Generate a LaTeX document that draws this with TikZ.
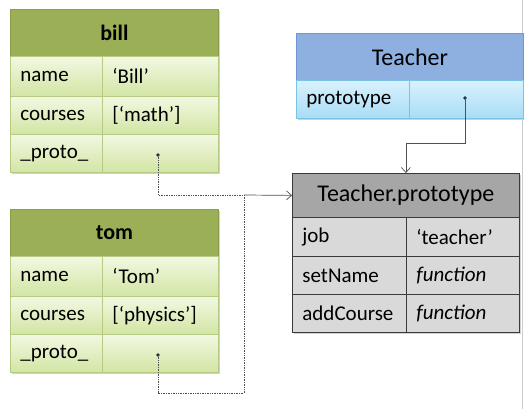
\documentclass[tikz,border=0pt]{standalone}
\usepackage{fontspec}
\setmainfont{Carlito}
\usetikzlibrary{arrows.meta}
\definecolor{gHead}{HTML}{9BAF57}
\definecolor{gHeadLine}{HTML}{8A9E4C}
\definecolor{gTop}{HTML}{F2F8E2}
\definecolor{gBot}{HTML}{D2E5A4}
\definecolor{gLine}{HTML}{B5CA82}
\definecolor{bHead}{HTML}{8DB0E0}
\definecolor{bHeadLine}{HTML}{6F98D2}
\definecolor{bTop}{HTML}{D8F2FD}
\definecolor{bBot}{HTML}{A9DCF5}
\definecolor{bLine}{HTML}{7CC2E6}
\definecolor{pHead}{HTML}{A6A6A6}
\definecolor{pRow}{HTML}{D9D9D9}
\definecolor{pLine}{HTML}{3A3A3A}
\definecolor{conn}{HTML}{505050}
\definecolor{dotc}{HTML}{1F2A44}
\tikzset{
  basecell/.style={anchor=north west, inner xsep=10pt, inner ysep=0pt, align=left,
    font=\fontsize{21}{24}\selectfont, line width=0.8pt},
  headcell/.style={anchor=north west, inner sep=0pt, align=center, line width=0.8pt},
  greenrow/.style={basecell, draw=gLine, top color=gTop, bottom color=gBot},
  greenhead/.style={headcell, draw=gHeadLine, fill=gHead, font=\fontsize{22}{24}\selectfont\bfseries},
  bluerow/.style={basecell, draw=bLine, top color=bTop, bottom color=bBot},
  bluehead/.style={headcell, draw=bHeadLine, fill=bHead, font=\fontsize{24}{27}\selectfont},
  grayrow/.style={basecell, draw=pLine, fill=pRow},
  grayhead/.style={headcell, draw=pLine, fill=pHead, font=\fontsize{24}{27}\selectfont},
  shadowbox/.style={fill=black!18},
  dotmark/.style={circle, fill=dotc, inner sep=0pt, minimum size=3.6pt},
  dotline/.style={conn, densely dotted, line width=0.7pt},
  solidline/.style={conn, line width=0.7pt},
  arrowtip/.style={-{Straight Barb[length=5pt,width=9pt,line width=0.7pt]}}
}
\begin{document}
\begin{tikzpicture}[x=1pt,y=-1pt]
\useasboundingbox (0,0) rectangle (524,409);
\fill[white] (0,0) rectangle (524,409);
\draw[black!20, line width=1pt] (522.5,0) -- (522.5,409);
% shadows
\fill[shadowbox] (12,11) rectangle (220,174);
\fill[shadowbox] (12,211) rectangle (220,374);
\fill[shadowbox] (298,35) rectangle (525,120);
\fill[shadowbox] (294,175) rectangle (521,334);
% bill
\node[greenhead, minimum width=208pt, minimum height=47pt] (billh) at (10,9) {bill};
\node[greenrow, text width=72pt, minimum height=40pt] (bnk) at (10,56) {name};
\node[greenrow, text width=96pt, minimum height=40pt] (bnv) at (102,56) {‘Bill’};
\node[greenrow, text width=72pt, minimum height=38pt] (bck) at (10,96) {courses};
\node[greenrow, text width=96pt, minimum height=38pt] (bcv) at (102,96) {[‘math’]};
\node[greenrow, text width=72pt, minimum height=38pt] (bpk) at (10,134) {\_proto\_};
\node[greenrow, text width=96pt, minimum height=38pt] (bpv) at (102,134) {};
% tom
\node[greenhead, minimum width=208pt, minimum height=47pt] (tomh) at (10,209) {tom};
\node[greenrow, text width=72pt, minimum height=40pt] (tnk) at (10,256) {name};
\node[greenrow, text width=96pt, minimum height=40pt] (tnv) at (102,256) {‘Tom’};
\node[greenrow, text width=72pt, minimum height=38pt] (tck) at (10,296) {courses};
\node[greenrow, text width=96pt, minimum height=38pt] (tcv) at (102,296) {[‘physics’]};
\node[greenrow, text width=72pt, minimum height=38pt] (tpk) at (10,334) {\_proto\_};
\node[greenrow, text width=96pt, minimum height=38pt] (tpv) at (102,334) {};
% Teacher
\node[bluehead, minimum width=227pt, minimum height=47pt] (teach) at (296,33) {Teacher};
\node[bluerow, text width=93pt, minimum height=38pt] (tprk) at (296,80) {prototype};
\node[bluerow, text width=94pt, minimum height=38pt] (tprv) at (409,80) {};
% Teacher.prototype
\node[grayhead, minimum width=227pt, minimum height=44pt] (tp) at (292,173) {Teacher.prototype};
\node[grayrow, text width=94pt, minimum height=39pt] (jk) at (292,217) {job};
\node[grayrow, text width=93pt, minimum height=39pt] (jv) at (406,217) {‘teacher’};
\node[grayrow, text width=94pt, minimum height=38pt] (sk) at (292,256) {setName};
\node[grayrow, text width=93pt, minimum height=38pt] (sv) at (406,256) {\itshape function};
\node[grayrow, text width=94pt, minimum height=38pt] (ak) at (292,294) {addCourse};
\node[grayrow, text width=93pt, minimum height=38pt] (av) at (406,294) {\itshape function};
% dots
\node[dotmark] (bdot) at (158,155) {};
\node[dotmark] (tdot) at (158,355) {};
\node[dotmark] (cdot) at (465,98) {};
% connectors
\coordinate (join) at (244,195);
\coordinate (tomturn) at (244,393);
\coordinate (cbend) at (465,143);
\draw[dotline] (bdot.center) |- (join);
\draw[solidline, arrowtip] (join) -- (tp.west);
\draw[dotline] (tdot.center) |- (tomturn) -- (join);
\draw[solidline, arrowtip] (cdot.center) -- (cbend) -| (tp.north);
\end{tikzpicture}
\end{document}
